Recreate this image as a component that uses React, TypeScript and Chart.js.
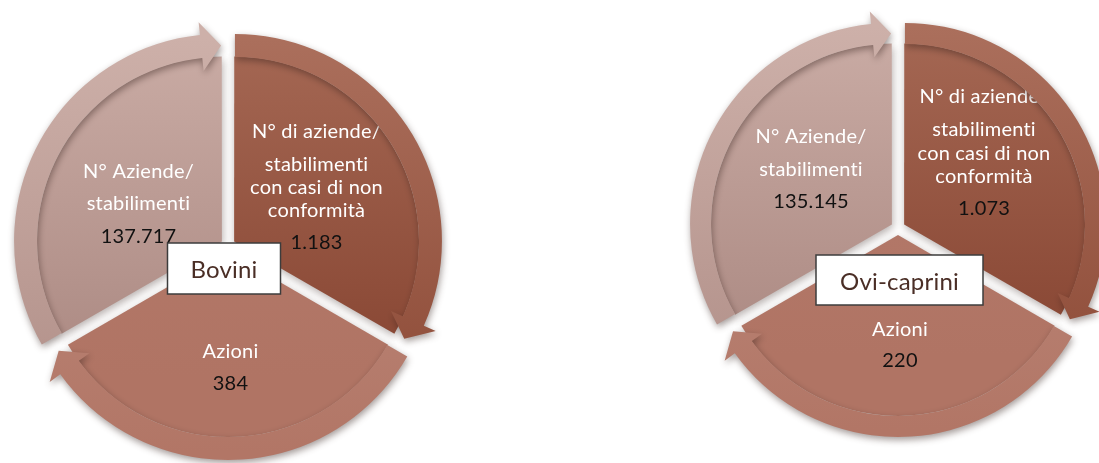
import { useEffect, useRef } from "react";
import { Chart, registerables } from "chart.js";

Chart.register(...registerables);

// ---- data ----
const cycleSteps = [
  "N° di aziende/ stabilimenti con casi di non conformità",
  "Azioni",
  "N° Aziende/ stabilimenti",
];
const stepLines = [
  ["N° di aziende/", "stabilimenti", "con casi di non", "conformità"],
  ["Azioni"],
  ["N° Aziende/", "stabilimenti"],
];
// every step of the cycle takes an equal third of the circle
const stepShares = [1, 1, 1];
const groups = ["Bovini", "Ovi-caprini"];
const boviniCounts = [1183, 384, 137717];
const oviCapriniCounts = [1073, 220, 135145];

// ---- styles / layout ----
const FONT = "Lato, 'Open Sans', sans-serif";
const segmentStyles = [
  { wedge: ["#a56854", "#884633"], band: ["#ab6f5c", "#8a4733"] },
  { wedge: ["#b57c6d", "#b07464"], band: ["#bf9083", "#b27666"] },
  { wedge: ["#caaca5", "#ac8a83"], band: ["#cdb0a9", "#ae8c85"] },
];
const layouts = [
  {
    cx: 227.5, cy: 245, radius: 207, band: 23, explode: 8, head: 20, wing: 13,
    box: { dx: -4, dy: 23.5, w: 113, h: 51 },
    labels: [
      { dx: 88.5, ys: [-113, -80, -57, -34], numY: -2 },
      { dx: 2.5, ys: [107], numY: 139 },
      { dx: -89.5, ys: [-73, -41], numY: -8 },
    ],
  },
  {
    cx: 898, cy: 228, radius: 201, band: 21, explode: 8, head: 19, wing: 12.5,
    box: { dx: 1.5, dy: 52, w: 167, h: 50 },
    labels: [
      { dx: 86, ys: [-131, -98, -74, -51], numY: -19 },
      { dx: 2, ys: [102], numY: 133 },
      { dx: -87, ys: [-91, -58], numY: -26 },
    ],
  },
];
const SIZE = 480;

function formatIt(n: number) {
  return String(n).replace(/\B(?=(\d{3})+(?!\d))/g, ".");
}

function vGrad(ctx: CanvasRenderingContext2D, y0: number, y1: number, c: string[]) {
  const g = ctx.createLinearGradient(0, y0, 0, y1);
  g.addColorStop(0, c[0]);
  g.addColorStop(1, c[1]);
  return g;
}

function noLigatures(ctx: any) {
  try {
    ctx.textRendering = "optimizeSpeed";
  } catch (e) {}
  try {
    ctx.letterSpacing = "0.2px";
  } catch (e) {}
}

function CycleChart({ group, counts, layout }: { group: string; counts: number[]; layout: any }) {
  const ref = useRef<HTMLCanvasElement | null>(null);
  useEffect(() => {
    if (!ref.current) return;
    const chartOffset = layout.explode / (0.25 * (2 - Math.sin((2 * Math.PI) / 3)));

    const decor = {
      id: "cycleDecor",
      beforeDatasetsDraw(chart: any) {
        const ctx = chart.ctx;
        ctx.save();
        ctx.shadowColor = "rgba(70,50,45,0.40)";
        ctx.shadowBlur = 8;
        ctx.shadowOffsetX = 1;
        ctx.shadowOffsetY = 3;
      },
      afterDatasetsDraw(chart: any) {
        const ctx = chart.ctx;
        ctx.restore();
        const wedges = chart.getDatasetMeta(1).data;
        const bands = chart.getDatasetMeta(0).data;
        const c0 = wedges[0].getProps(["x", "y"], true);

        // labels
        ctx.save();
        noLigatures(ctx);
        ctx.textAlign = "center";
        ctx.textBaseline = "middle";
        ctx.font = `20px ${FONT}`;
        stepLines.forEach((lines, i) => {
          const L = layout.labels[i];
          ctx.fillStyle = "#ffffff";
          lines.forEach((t, k) => ctx.fillText(t, c0.x + L.dx, c0.y + L.ys[k]));
          ctx.fillStyle = "#111111";
          ctx.fillText(formatIt(counts[i]), c0.x + L.dx, c0.y + L.numY);
        });
        ctx.restore();

        // arrow bands
        bands.forEach((arc: any, i: number) => {
          const p = arc.getProps(
            ["x", "y", "startAngle", "endAngle", "innerRadius", "outerRadius", "circumference"],
            true
          );
          const off = (arc.options.offset || 0) / 4;
          const half = (p.startAngle + p.endAngle) / 2;
          const t = off * (2 - Math.sin(Math.min(Math.PI, p.circumference)));
          const cx = p.x + Math.cos(half) * t;
          const cy = p.y + Math.sin(half) * t;
          const ri = p.innerRadius;
          const ro = p.outerRadius;
          const rm = (ri + ro) / 2;
          const base = p.endAngle - layout.head / rm;
          const pt = (ang: number, r: number): [number, number] => [cx + Math.cos(ang) * r, cy + Math.sin(ang) * r];
          ctx.save();
          ctx.shadowColor = "rgba(50,30,25,0.45)";
          ctx.shadowBlur = 7;
          ctx.shadowOffsetX = 1;
          ctx.shadowOffsetY = 3;
          ctx.fillStyle = vGrad(ctx, p.y - ro, p.y + ro, segmentStyles[i].band);
          ctx.beginPath();
          ctx.arc(cx, cy, ro, p.startAngle, base, false);
          ctx.lineTo(...pt(base, ro + layout.wing));
          ctx.lineTo(...pt(p.endAngle, rm));
          ctx.lineTo(...pt(base, ri - layout.wing));
          ctx.lineTo(...pt(base, ri));
          ctx.arc(cx, cy, ri, base, p.startAngle, true);
          ctx.closePath();
          ctx.fill();
          ctx.restore();
        });

        // group box
        const b = layout.box;
        const bx = c0.x + b.dx - b.w / 2;
        const by = c0.y + b.dy - b.h / 2;
        ctx.save();
        ctx.fillStyle = "#ffffff";
        ctx.fillRect(bx, by, b.w, b.h);
        ctx.strokeStyle = "#3c3c3c";
        ctx.lineWidth = 1.5;
        ctx.strokeRect(bx, by, b.w, b.h);
        noLigatures(ctx);
        ctx.fillStyle = "#4a2e26";
        ctx.font = `24px ${FONT}`;
        ctx.textAlign = "center";
        ctx.textBaseline = "middle";
        ctx.fillText(group, c0.x + b.dx, c0.y + b.dy + 2);
        ctx.restore();
      },
    };

    const chart = new Chart(ref.current, {
      type: "doughnut",
      data: {
        labels: cycleSteps,
        datasets: [
          {
            label: "ciclo",
            data: stepShares,
            weight: layout.band,
            backgroundColor: "rgba(0,0,0,0)",
            borderWidth: 0,
            offset: chartOffset,
          },
          {
            label: group,
            data: stepShares,
            weight: layout.radius - layout.band,
            backgroundColor: (c: any) => {
              const area = c.chart.chartArea;
              const st = segmentStyles[c.dataIndex % 3].wedge;
              if (!area) return st[0];
              const my = (area.top + area.bottom) / 2;
              return vGrad(c.chart.ctx, my - layout.radius, my + layout.radius * 0.6, st);
            },
            borderWidth: 0,
            offset: chartOffset,
          },
        ],
      } as any,
      options: {
        animation: false,
        responsive: false,
        cutout: 0,
        radius: layout.radius,
        layout: { padding: 0 },
        events: [],
        plugins: { legend: { display: false }, tooltip: { enabled: false } },
      } as any,
      plugins: [decor],
    });
    return () => chart.destroy();
  }, [group, counts, layout]);

  return (
    <canvas
      ref={ref}
      width={SIZE}
      height={SIZE}
      style={{
        position: "absolute",
        left: layout.cx - SIZE / 2,
        top: layout.cy - SIZE / 2,
        width: SIZE,
        height: SIZE,
      }}
    />
  );
}

export default function App() {
  return (
    <div
      style={{
        position: "absolute",
        left: 0,
        top: 0,
        width: 1099,
        height: 463,
        overflow: "hidden",
        background: "#ffffff",
      }}
    >
      <CycleChart group={groups[0]} counts={boviniCounts} layout={layouts[0]} />
      <CycleChart group={groups[1]} counts={oviCapriniCounts} layout={layouts[1]} />
    </div>
  );
}
